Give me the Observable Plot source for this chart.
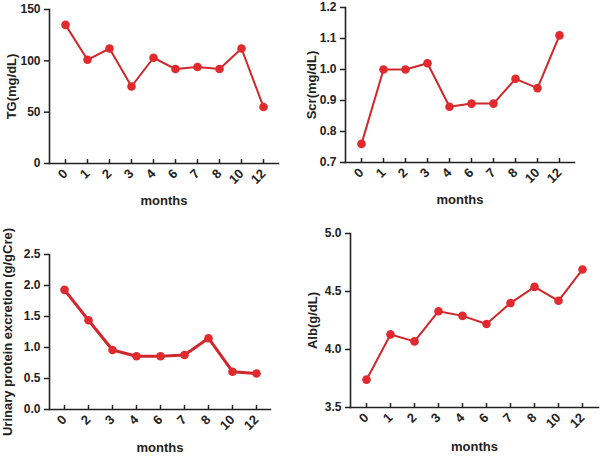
<!DOCTYPE html>
<html>
<head>
<meta charset="utf-8">
<script src="https://cdn.jsdelivr.net/npm/d3@7"></script>
<script src="https://cdn.jsdelivr.net/npm/@observablehq/plot@0.6"></script>
<style>
  html, body { margin: 0; padding: 0; background: #fff; }
  #root { position: relative; width: 600px; height: 457px; overflow: hidden; }
  .panel { position: absolute; }
  .panel svg { font-family: "Liberation Sans", Arial, sans-serif; font-weight: bold; overflow: visible; }
  .panel svg g[aria-label="y-axis label"], .panel svg g[aria-label="x-axis label"] { font-size: 13px; }
</style>
</head>
<body>
<div id="root"></div>
<script>
// ---- data ----
const monthsA = ["0","1","2","3","4","6","7","8","10","12"];
const tgValues = [135, 101, 112, 75, 103, 92, 94, 92, 112, 55];
const scrValues = [0.76, 1.00, 1.00, 1.02, 0.88, 0.89, 0.89, 0.97, 0.94, 1.11];
const monthsB = ["0","2","3","4","6","7","8","10","12"];
const upeValues = [1.93, 1.44, 0.96, 0.86, 0.86, 0.88, 1.15, 0.61, 0.58];
const albValues = [3.74, 4.13, 4.07, 4.33, 4.29, 4.22, 4.40, 4.54, 4.42, 4.69];

const tgTicks = [0, 50, 100, 150];
const scrTicks = [0.7, 0.8, 0.9, 1.0, 1.1, 1.2];
const upeTicks = [0, 0.5, 1.0, 1.5, 2.0, 2.5];
const albTicks = [3.5, 4.0, 4.5, 5.0];

const LINE = "#d0272b";
const DOT = "#e02a2e";

function panel(o) {
  const rows = o.cats.map((c, i) => ({month: c, value: o.vals[i]}));
  const chart = Plot.plot({
    width: 300,
    height: o.height,
    marginLeft: o.ml, marginRight: o.mr, marginTop: o.mt, marginBottom: o.mb,
    style: {fontSize: "12px", fontWeight: "bold", color: "#222"},
    x: {type: "point", domain: o.cats, padding: 0.5},
    y: {domain: o.domain},
    marks: [
      Plot.frame({anchor: "left", stroke: "#222", strokeWidth: 1.6}),
      Plot.frame({anchor: "bottom", stroke: "#222", strokeWidth: 1.6}),
      Plot.axisY({ticks: o.ticks, tickFormat: o.fmt, tickSize: 5, strokeWidth: 1.5,
        label: o.label, labelAnchor: "center", labelOffset: o.lo, labelArrow: "none", fontSize: 12}),
      Plot.axisX({tickSize: 4, dy: -4, tickFormat: () => "", label: null, strokeWidth: 1.5}),
      Plot.axisX({tickSize: 0, tickRotate: -45, tickPadding: 8, label: "months",
        labelAnchor: "center", labelOffset: o.xlo, labelArrow: "none", fontSize: 13}),
      Plot.lineY(rows, {x: "month", y: "value", stroke: LINE, strokeWidth: o.sw}),
      Plot.dot(rows, {x: "month", y: "value", fill: DOT, r: 4.3})
    ]
  });
  const div = document.createElement("div");
  div.className = "panel";
  div.style.left = o.left + "px";
  div.style.top = o.top + "px";
  div.appendChild(chart);
  document.getElementById("root").appendChild(div);
}

panel({cats: monthsA, vals: tgValues, label: "TG(mg/dL)", domain: [0, 150], ticks: tgTicks, fmt: d3.format("d"),
  left: 0, top: 0, height: 225, ml: 49, mr: 22, mt: 9, mb: 62, lo: 43, xlo: 41, sw: 2});
panel({cats: monthsA, vals: scrValues, label: "Scr(mg/dL)", domain: [0.7, 1.2], ticks: scrTicks, fmt: d3.format(".1f"),
  left: 300, top: 0, height: 225, ml: 45, mr: 26, mt: 7, mb: 63, lo: 39, xlo: 41, sw: 2});
panel({cats: monthsB, vals: upeValues, label: "Urinary protein excretion (g/gCre)", domain: [0, 2.5], ticks: upeTicks, fmt: d3.format(".1f"),
  left: 0, top: 225, height: 232, ml: 49, mr: 30, mt: 29, mb: 48, lo: 47, xlo: 42, sw: 3});
panel({cats: monthsA, vals: albValues, label: "Alb(g/dL)", domain: [3.5, 5.0], ticks: albTicks, fmt: d3.format(".1f"),
  left: 300, top: 225, height: 232, ml: 50, mr: 2, mt: 8, mb: 50, lo: 43, xlo: 43, sw: 2});
</script>
</body>
</html>
